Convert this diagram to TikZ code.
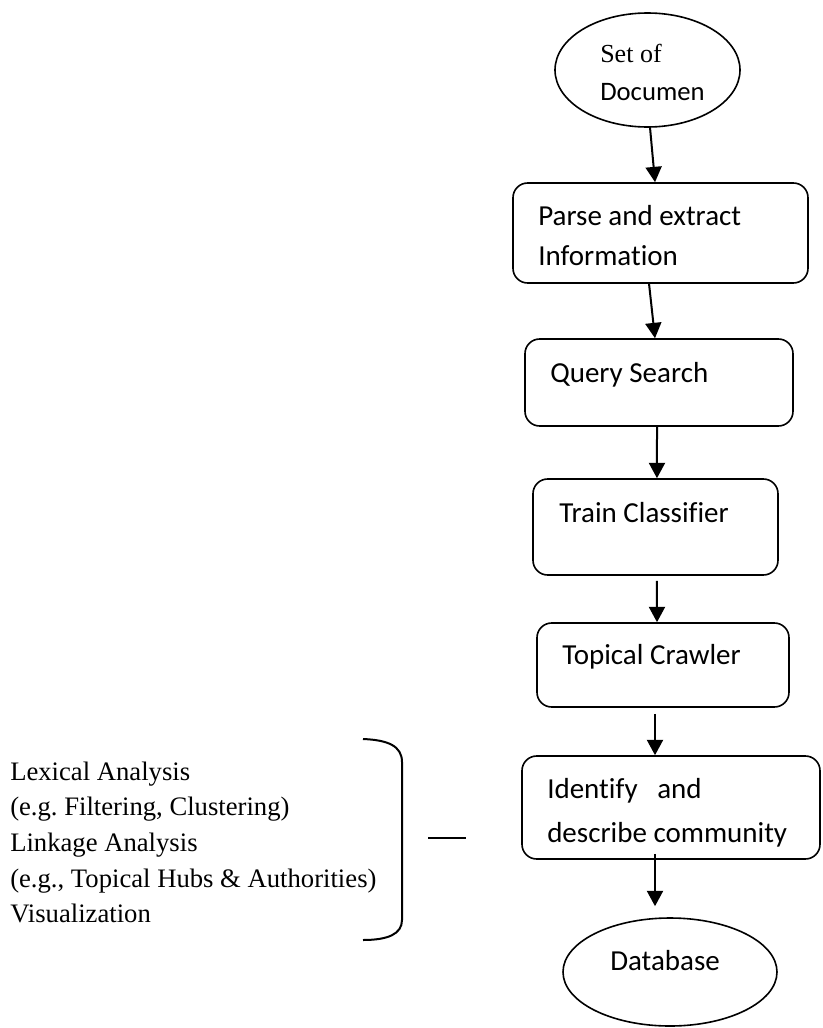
\documentclass[tikz,border=0pt]{standalone}
\usepackage{fontspec}
\setmainfont{Liberation Serif}
\newfontfamily\boxfont[Ligatures=NoCommon]{Carlito}
\usetikzlibrary{arrows.meta,shapes.geometric}
\frenchspacing
\newcommand\pxu{0.75pt}
\tikzset{
  procbox/.style={draw, rounded corners=11pt, line width=1.2pt, inner sep=0pt},
  oval/.style={draw, ellipse, line width=1.2pt, inner sep=0pt},
  boxtxt/.style={anchor=base west, inner sep=0pt, font=\boxfont\fontsize{21.75pt}{26pt}\selectfont},
  sidetxt/.style={anchor=base west, inner sep=0pt, font=\fontsize{20pt}{24pt}\selectfont},
  arr/.style={line width=1.5pt, -{Triangle[width=12pt,length=11.5pt]}},
}
\begin{document}
\begin{tikzpicture}[x=0.75pt,y=-0.75pt]
\useasboundingbox (0,0) rectangle (822,1028);
% shapes
\node[oval, minimum width=185*\pxu, minimum height=114*\pxu] (e1) at (647.5,70) {};
\node[procbox, minimum width=295*\pxu, minimum height=100*\pxu] (b1) at (660.5,233) {};
\node[procbox, minimum width=268*\pxu, minimum height=87*\pxu] (b2) at (659,382.5) {};
\node[procbox, minimum width=245*\pxu, minimum height=96*\pxu] (b3) at (655.5,527) {};
\node[procbox, minimum width=252*\pxu, minimum height=84*\pxu] (b4) at (663,665) {};
\node[procbox, minimum width=298*\pxu, minimum height=103*\pxu] (b5) at (671,807.5) {};
\node[oval, minimum width=214*\pxu, minimum height=108*\pxu] (db) at (670,972) {};
% texts
\node[anchor=base west, inner sep=0pt, font=\fontsize{19.5pt}{24pt}\selectfont] (t0a) at (600,62) {Set of};
\node[boxtxt, font=\boxfont\fontsize{20pt}{24pt}\selectfont] (t0b) at (600,100) {Documen};
\node[boxtxt] (t1a) at (538,225) {Parse and extract};
\node[boxtxt] (t1b) at (538,265) {Information};
\node[boxtxt] (t2) at (550,382) {Query Search};
\node[boxtxt] (t3) at (559,522) {Train Classifier};
\node[boxtxt] (t4) at (562,664) {Topical Crawler};
\node[boxtxt] (t5a) at (547,798) {Identify\ \ \ and};
\node[boxtxt] (t5b) at (547,842) {describe community};
\node[boxtxt] (t6) at (610,970) {Database};
% side texts
\node[sidetxt] (s1) at (10,780) {Lexical Analysis};
\node[sidetxt] (s2) at (10,815.7) {(e.g. Filtering, Clustering)};
\node[sidetxt] (s3) at (10,851.4) {Linkage Analysis};
\node[sidetxt] (s4) at (10,887.1) {(e.g., Topical Hubs \& Authorities)};
\node[sidetxt] (s5) at (10,922.8) {Visualization};
% bracket and dash
\draw[line width=1.5pt] (363,739) .. controls (388,740) and (402,746) .. (402,762)
  -- (402,920) .. controls (402,934) and (388,940) .. (363,940);
\draw[line width=1.3pt] (428,838) -- (466,838);
% connectors
\draw[arr] ([xshift=1.9pt]e1.south) -- ([xshift=-4.1pt]b1.north);
\draw[arr] ([xshift=-8.6pt]b1.south) -- ([xshift=-3pt]b2.north);
\draw[arr] ([xshift=-1.5pt]b2.south) -- ([xshift=1.1pt]b3.north);
\draw[arr] ([xshift=1.1pt,yshift=-3.75pt]b3.south) -- ([xshift=-4.5pt]b4.north);
\draw[arr] ([xshift=-6pt,yshift=-4.5pt]b4.south) -- ([xshift=-12pt]b5.north);
\draw[arr] ([xshift=-12pt,yshift=4.5pt]b5.south) -- ([xshift=-11.25pt,yshift=8.25pt]db.north);
\end{tikzpicture}
\end{document}
